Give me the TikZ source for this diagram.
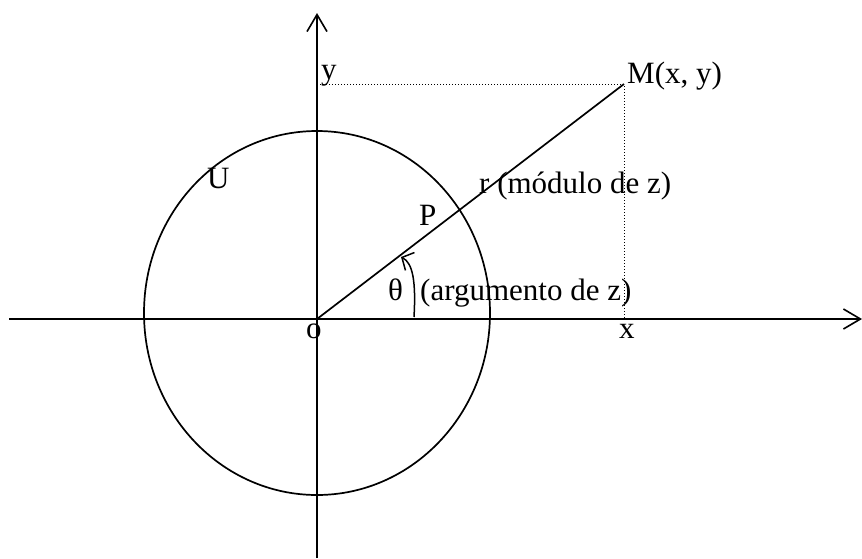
\documentclass[tikz,border=0pt]{standalone}
\usepackage{fontspec}
\setmainfont{Liberation Serif}
\usetikzlibrary{arrows.meta}

\begin{document}
\begin{tikzpicture}[x=1pt, y=-1pt,
  axis/.style={line width=1.8pt, -{Straight Barb[length=17pt, width=20pt, line width=1.6pt]}},
  lbl/.style={anchor=base west, inner sep=0pt, font=\fontsize{31}{36}\selectfont}]
\useasboundingbox (0,0) rectangle (862,558);

% points
\coordinate (O) at (317,319);
\coordinate (M) at (624,84);
\coordinate (Xl) at (9,319);
\coordinate (Xr) at (862,319);
\coordinate (Yb) at (317,558);
\coordinate (Yt) at (317,13);
\coordinate (Yp) at (317,84);
\coordinate (Xp) at (624,319);
\coordinate (A1) at (414,317);
\coordinate (A2) at (401,257);

% axes
\draw[axis] (Xl) -- (Xr);
\draw[axis] (Yb) -- (Yt);

% circle U
\draw[line width=1.7pt] (317,313) ellipse [x radius=173, y radius=182];

% projections
\draw[dotted, line width=1pt] (Yp) -- (M) -- (Xp);

% radius
\draw[line width=1.7pt] (O) -- (M);

% angle
\draw[line width=1.5pt, -{Straight Barb[length=9pt, width=20pt, line width=1.5pt]}]
  (A1) .. controls (416,282) and (413,263) .. (A2);

% labels
\node[lbl] (ly) at (321,79) {y};
\node[lbl] (lM) at (627,83) {M(x, y)};
\node[lbl] (lU) at (207,188) {U};
\node[lbl] (lr) at (479,193) {r (módulo de z)};
\node[lbl] (lP) at (419,225) {P};
\node[lbl] (lt) at (388,300) {θ};
\node[lbl] (la) at (420,300) {(argumento de z)};
\node[lbl] (lo) at (306,338) {o};
\node[lbl] (lx) at (619,338) {x};
\end{tikzpicture}
\end{document}
